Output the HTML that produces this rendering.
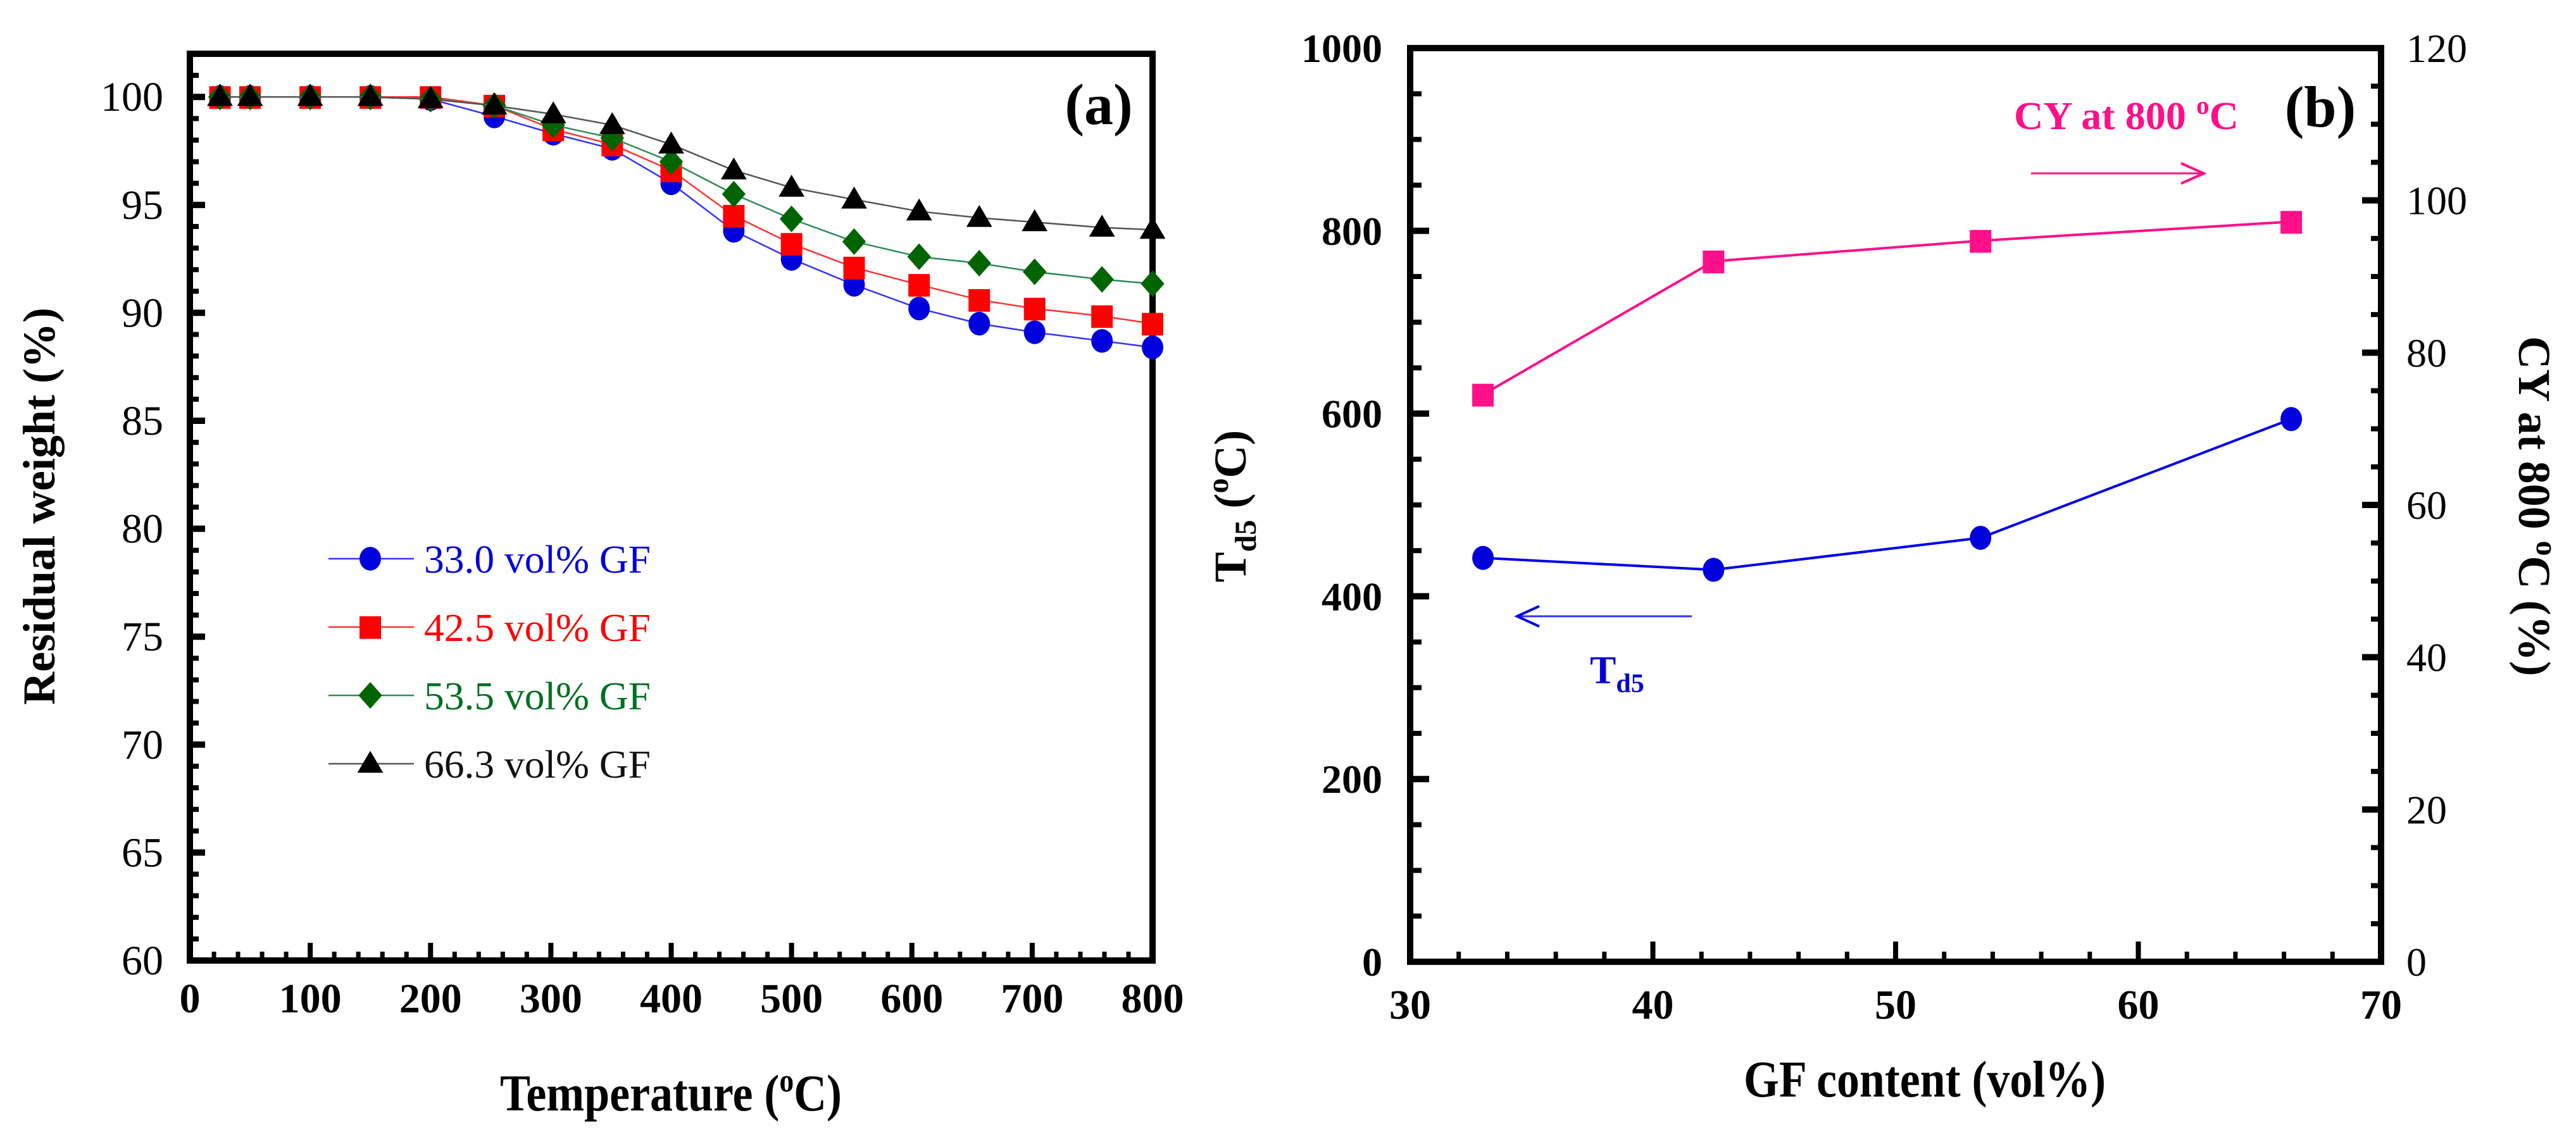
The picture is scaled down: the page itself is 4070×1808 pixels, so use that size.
<!DOCTYPE html>
<html><head><meta charset="utf-8">
<style>
html,body{margin:0;padding:0;background:#fff;}
svg{display:block;font-family:"Liberation Serif",serif;}
</style></head>
<body>
<svg id="fig" width="4070" height="1808" viewBox="0 0 4070 1808" xmlns="http://www.w3.org/2000/svg"></svg>
<script>
// ---------- Panel (a) data ----------
const tempsA = [25,50,100,150,200,253,302,351,400,452,500,552,606,656,702,758,800];
const seriesNames = ["33.0 vol% GF","42.5 vol% GF","53.5 vol% GF","66.3 vol% GF"];
const blueVals  = [100,100,100,100,99.9,99.1,98.3,97.6,96.0,93.8,92.5,91.3,90.2,89.5,89.1,88.7,88.4];
const redVals   = [100,100,100,100,100,99.6,98.5,97.8,96.6,94.5,93.2,92.1,91.3,90.6,90.2,89.85,89.5];
const greenVals = [100,100,100,100,99.9,99.6,98.7,98.1,97.0,95.5,94.35,93.3,92.6,92.3,91.9,91.55,91.35];
const blackVals = [100,100,100,100,99.9,99.6,99.2,98.7,97.8,96.6,95.8,95.25,94.7,94.4,94.2,93.95,93.85];
const yTicksA = [60,65,70,75,80,85,90,95,100];
const xTicksA = [0,100,200,300,400,500,600,700,800];
// ---------- Panel (b) data ----------
const gfContent = [33.0,42.5,53.5,66.3];
const td5Vals = [442,429,464,594];
const cyVals = [74.5,92.0,94.7,97.2];
const xTicksB = [30,40,50,60,70];
const yTicksBLeft = [0,200,400,600,800,1000];
const yTicksBRight = [0,20,40,60,80,100,120];

const NS="http://www.w3.org/2000/svg";
const svg=document.getElementById('fig');
function mk(tag,attrs,parent){const e=document.createElementNS(NS,tag);for(const k in attrs)e.setAttribute(k,attrs[k]);(parent||svg).appendChild(e);return e;}
function txt(s,attrs,parent){const e=mk('text',attrs,parent);e.textContent=s;return e;}

// ---------- Panel (a) axes ----------
const A={x0:300,x1:1821,yTop:85,yBot:1518};
const ax=v=>A.x0+(v-0)/800*(A.x1-A.x0);
const ay=v=>A.yBot-(v-60)/(102-60)*(A.yBot-A.yTop);
const gA=mk('g',{});


const frameA=mk('rect',{x:A.x0,y:A.yTop,width:A.x1-A.x0,height:A.yBot-A.yTop,fill:'none',stroke:'#000','stroke-width':10},gA);


for(let v=60;v<=102;v+=1){const major=v%5===0;const t=mk('line',{x1:A.x0,x2:A.x0+(major?24:14),y1:ay(v),y2:ay(v),stroke:'#000','stroke-width':major?10:8},gA);

}
for(let v=0;v<=800;v+=20){const major=v%100===0;const t=mk('line',{x1:ax(v),x2:ax(v),y1:A.yBot,y2:A.yBot-(major?28:14),stroke:'#000','stroke-width':major?8:7},gA);

}
yTicksA.forEach(v=>{const t=txt(String(v),{x:258,y:ay(v)+22,'text-anchor':'end','font-size':66},gA);

});
xTicksA.forEach(v=>{const t=txt(String(v),{x:ax(v),y:1600,'text-anchor':'middle','font-size':66,'font-weight':'bold'},gA);

});
const xtA=txt('Temperature (',{x:790,y:1755,'font-size':82,'font-weight':'bold'},gA);


const ts1=mk('tspan',{'font-size':52,dy:-30},xtA);ts1.textContent='o';
const ts2=mk('tspan',{dy:30},xtA);ts2.textContent='C)';
xtA.setAttribute('textLength','540');
xtA.setAttribute('lengthAdjust','spacingAndGlyphs');
const ytA=txt('Residual weight (%)',{x:0,y:0,'text-anchor':'middle','font-size':72,'font-weight':'bold',transform:'translate(86,800) rotate(-90)'},gA);


const la=txt('(a)',{x:1736,y:196,'text-anchor':'middle','font-size':92,'font-weight':'bold'},gA);



const colorsLine=['#3333ff','#ff3333','#2e8b57','#555555'];
const colorsFill=['#0000dd','#ff0000','#006400','#000000'];
const textColors=['#0000dd','#ff0000','#007020','#111111'];
const shapes=['circle','square','diamond','triangle'];
function marker(shape,x,y,fill,s,parent){
  if(shape==='circle')return mk('ellipse',{cx:x,cy:y,rx:s*0.5,ry:s*0.55,fill:fill},parent);
  if(shape==='square')return mk('rect',{x:x-s/2,y:y-s/2,width:s,height:s*1.05,fill:fill},parent);
  if(shape==='diamond')return mk('polygon',{points:`${x},${y-s*0.62} ${x+s*0.55},${y} ${x},${y+s*0.62} ${x-s*0.55},${y}`,fill:fill},parent);
  return mk('polygon',{points:`${x},${y-s*0.6} ${x+s*0.6},${y+s*0.42} ${x-s*0.6},${y+s*0.42}`,fill:fill},parent);
}
[blueVals,redVals,greenVals,blackVals].forEach((vals,i)=>{
  const g=mk('g',{},gA);
  
  
  const pl=mk('polyline',{points:tempsA.map((t,j)=>ax(t)+','+ay(vals[j])).join(' '),fill:'none',stroke:colorsLine[i],'stroke-width':2.5},g);
  
  
  tempsA.forEach((t,j)=>{const m=marker(shapes[i],ax(t),ay(vals[j]),colorsFill[i],34,g);
  
  });
});
const leg=mk('g',{},gA);


[883,991,1099,1207].forEach((y,i)=>{
  const e=mk('g',{},leg);
  
  
  mk('line',{x1:519,x2:654,y1:y,y2:y,stroke:colorsLine[i],'stroke-width':2.5},e);
  marker(shapes[i],585,y,colorsFill[i],34,e);
  txt(seriesNames[i],{x:670,y:y+22,'font-size':62,fill:textColors[i],textLength:358,lengthAdjust:'spacingAndGlyphs'},e);
});

// ---------- Panel (b) ----------
const B={x0:2228,x1:3762,yTop:76,yBot:1520};
const bx=v=>B.x0+(v-30)/40*(B.x1-B.x0);
const byL=v=>B.yBot-v/1000*(B.yBot-B.yTop);
const byR=v=>B.yBot-v/120*(B.yBot-B.yTop);
const gB=mk('g',{});


const frameB=mk('rect',{x:B.x0,y:B.yTop,width:B.x1-B.x0,height:B.yBot-B.yTop,fill:'none',stroke:'#000','stroke-width':10},gB);


for(let v=0;v<=1000;v+=50){const major=v%200===0;const t=mk('line',{x1:B.x0,x2:B.x0+(major?30:18),y1:byL(v),y2:byL(v),stroke:'#000','stroke-width':major?10:8},gB);

}
for(let v=0;v<=120;v+=5){const major=v%20===0;const t=mk('line',{x1:B.x1,x2:B.x1-(major?30:16),y1:byR(v),y2:byR(v),stroke:'#000','stroke-width':major?10:8},gB);

}
for(let v=30;v<=70;v+=2){const major=v%10===0;const t=mk('line',{x1:bx(v),x2:bx(v),y1:B.yBot,y2:B.yBot-(major?32:16),stroke:'#000','stroke-width':major?8:7},gB);

}
yTicksBLeft.forEach(v=>{const t=txt(String(v),{x:2184,y:byL(v)+22,'text-anchor':'end','font-size':64,'font-weight':'bold'},gB);

});
yTicksBRight.forEach(v=>{const t=txt(String(v),{x:3802,y:byR(v)+22,'font-size':64},gB);

});
xTicksB.forEach(v=>{const t=txt(String(v),{x:bx(v),y:1610,'text-anchor':'middle','font-size':66,'font-weight':'bold'},gB);

});
const xtB=txt('GF content (vol%)',{x:2755,y:1733,'font-size':82,'font-weight':'bold',textLength:572,lengthAdjust:'spacingAndGlyphs'},gB);


const ytL=txt('',{x:0,y:0,'text-anchor':'middle','font-size':72,'font-weight':'bold',transform:'translate(1968,800) rotate(-90)'},gB);


mk('tspan',{},ytL).textContent='T';
mk('tspan',{'font-size':48,dy:16},ytL).textContent='d5';
mk('tspan',{dy:-16},ytL).textContent=' (';
mk('tspan',{'font-size':48,dy:-28},ytL).textContent='o';
mk('tspan',{dy:28},ytL).textContent='C)';
const ytR=txt('CY at 800 ',{x:0,y:0,'text-anchor':'middle','font-size':72,'font-weight':'bold',transform:'translate(3980,800) rotate(90)'},gB);


mk('tspan',{'font-size':48,dy:-28},ytR).textContent='o';
mk('tspan',{dy:28},ytR).textContent='C (%)';
const lb=txt('(b)',{x:3666,y:200,'text-anchor':'middle','font-size':92,'font-weight':'bold'},gB);


const cyLab=txt('CY at 800 ',{x:3182,y:204,'font-size':62,'font-weight':'bold',fill:'#ff0f8a'},gB);


mk('tspan',{'font-size':40,dy:-24},cyLab).textContent='o';
mk('tspan',{dy:24},cyLab).textContent='C';
cyLab.setAttribute('textLength','355');
cyLab.setAttribute('lengthAdjust','spacingAndGlyphs');
const arR=mk('g',{},gB);


mk('line',{x1:3209,x2:3478,y1:274,y2:274,stroke:'#ff0f8a','stroke-width':3},arR);
mk('path',{d:'M3446,258 L3482,274 L3446,290',fill:'none',stroke:'#ff0f8a','stroke-width':4},arR);
const arL=mk('g',{},gB);


mk('line',{x1:2401,x2:2673,y1:974,y2:974,stroke:'#3333ff','stroke-width':3},arL);
mk('path',{d:'M2432,958 L2397,974 L2432,990',fill:'none',stroke:'#0000ee','stroke-width':4},arL);
const tdLab=txt('T',{x:2512,y:1080,'font-size':62,'font-weight':'bold',fill:'#0000dd'},gB);


mk('tspan',{'font-size':42,dy:14},tdLab).textContent='d5';
const gCY=mk('g',{},gB);


mk('polyline',{points:gfContent.map((c,i)=>bx(c)+','+byR(cyVals[i])).join(' '),fill:'none',stroke:'#ff0f8a','stroke-width':4},gCY);
gfContent.forEach((c,i)=>{const m=mk('rect',{x:bx(c)-17,y:byR(cyVals[i])-17,width:34,height:36,fill:'#ff0f8a'},gCY);

});
const gTd=mk('g',{},gB);


mk('polyline',{points:gfContent.map((c,i)=>bx(c)+','+byL(td5Vals[i])).join(' '),fill:'none',stroke:'#0000ee','stroke-width':4},gTd);
gfContent.forEach((c,i)=>{const m=mk('ellipse',{cx:bx(c),cy:byL(td5Vals[i]),rx:17,ry:19,fill:'#0000dd'},gTd);

});
</script>
</body></html>
